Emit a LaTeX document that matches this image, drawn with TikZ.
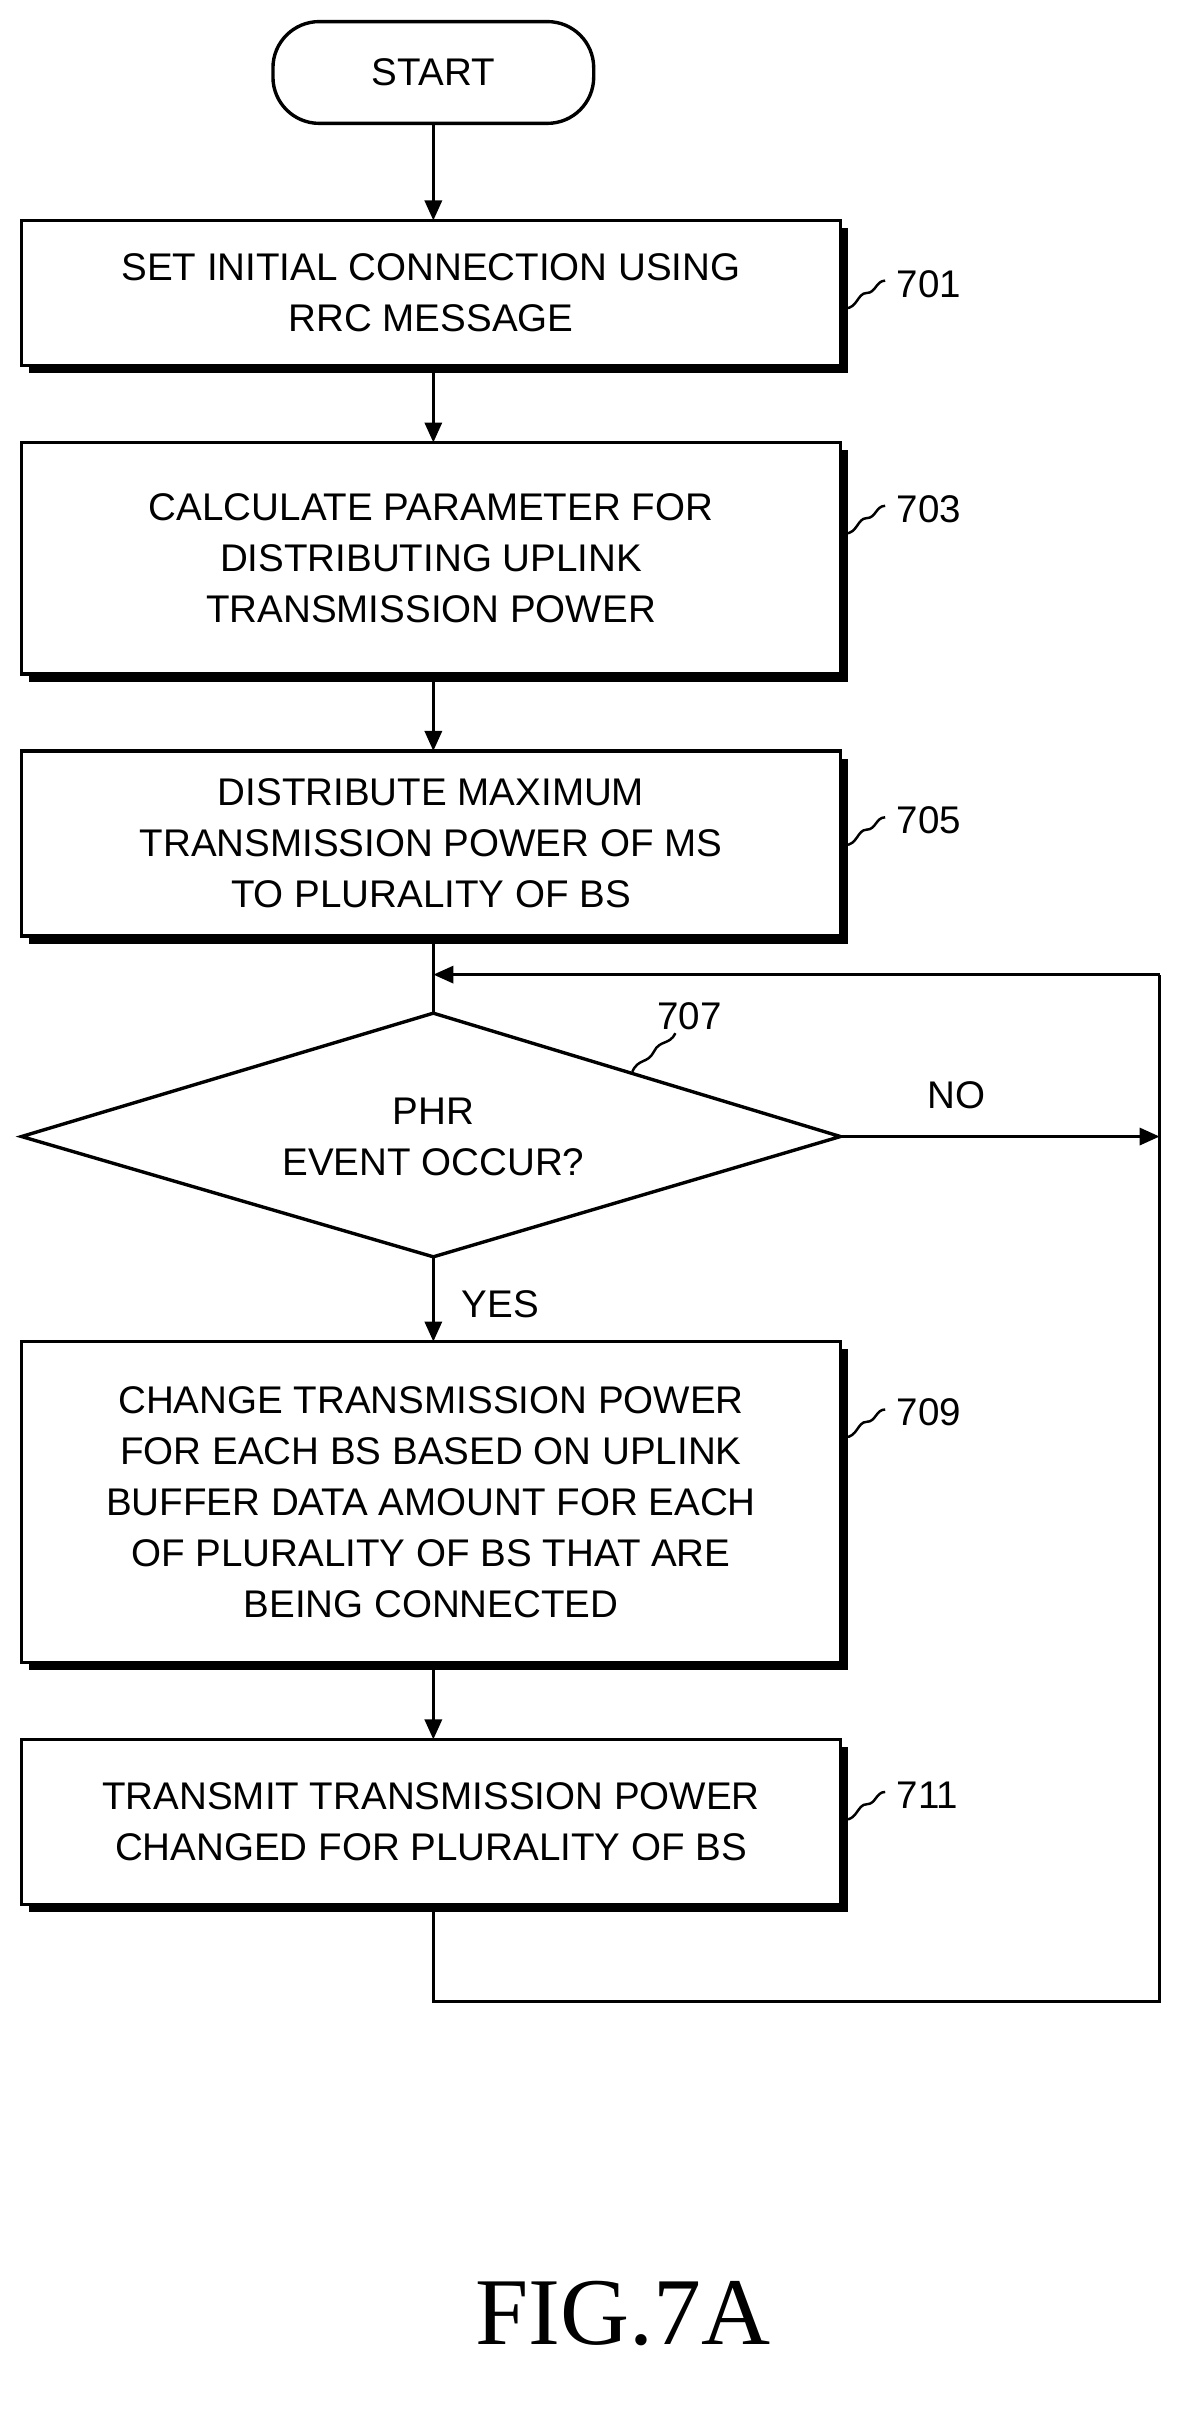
\documentclass[tikz,border=0pt]{standalone}
\usepackage{fontspec}
\setmainfont{Liberation Serif}
\newfontfamily\boxfont{Liberation Sans}
\usetikzlibrary{shapes.geometric,arrows.meta}
\begin{document}
\begin{tikzpicture}[x=1pt,y=-1pt,
  ln/.style={line width=2.2pt},
  arr/.style={ln,-{Triangle[length=13pt,width=11pt]}},
  txt/.style={font=\boxfont\fontsize{25}{33}\selectfont,align=center},
  lab/.style={font=\boxfont\fontsize{25}{30}\selectfont},
  sq/.style={line width=1.6pt}]
\useasboundingbox (0,0) rectangle (768,1568);
\tikzset{pics/bx/.style n args={0}{}}
\newcommand{\mybox}[4]{% name, top, bottom, text
  \fill (19,#2+5) rectangle (550,#3+5);
  \draw[ln,fill=white] (14,#2) rectangle (545,#3);
  \node[txt] (#1) at (279.5,{(#2+#3)/2}) {#4};
  \coordinate (#1t) at (281,#2);
  \coordinate (#1b) at (281,#3+5);}
\node[draw,ln,rounded corners=30pt,minimum width=208pt,minimum height=66pt,txt] (start) at (281,47) {START};
\mybox{b1}{143}{237}{SET INITIAL CONNECTION USING\\RRC MESSAGE}
\mybox{b3}{287}{437}{CALCULATE PARAMETER FOR\\DISTRIBUTING UPLINK\\TRANSMISSION POWER}
\mybox{b5}{487}{607}{DISTRIBUTE MAXIMUM\\TRANSMISSION POWER OF MS\\TO PLURALITY OF BS}
\mybox{b9}{870}{1078}{CHANGE TRANSMISSION POWER\\FOR EACH BS BASED ON UPLINK\\BUFFER DATA AMOUNT FOR EACH\\OF PLURALITY OF BS THAT ARE\\BEING CONNECTED}
\mybox{b11}{1128}{1235}{TRANSMIT TRANSMISSION POWER\\CHANGED FOR PLURALITY OF BS}
\draw[ln] (14,737) coordinate (dl) -- (281,657) coordinate (dt) -- (545,737) coordinate (dr) -- (281,815) coordinate (db) -- cycle;
\node[txt] (dtext) at (281,737) {PHR\\EVENT OCCUR?};
% labels
\foreach \n/\y in {701/190,703/336,705/538,709/922,711/1170}{
  \draw[sq] (548,\y+10) .. controls (556,\y+10) and (556,\y) .. (562,\y) .. controls (568,\y) and (568,\y-8) .. (574,\y-8);
  \node[lab,anchor=west] (l\n) at (578,\y-6) {\n};}
\draw[sq] (410,695) .. controls (414,686) and (420,690) .. (424,682) .. controls (428,674) and (434,678) .. (438,670);
\node[lab] (l707) at (447,659) {707};
% connectors
\draw[arr] (start.south) -- (b1t);
\draw[arr] (b1b) -- (b3t);
\draw[arr] (b3b) -- (b5t);
\draw[ln] (b5b) -- (dt);
\draw[arr] (db) -- (b9t);
\node[lab,anchor=west] (yes) at (296,846) {YES};
\draw[arr] (b9b) -- (b11t);
\coordinate (r1) at (752,737);
\draw[arr] (dr) -- (r1);
\node[lab] (no) at (620,710) {NO};
\coordinate (c1) at (281,1298);
\coordinate (c2) at (752,1298);
\coordinate (c3) at (752,632);
\coordinate (c4) at (281,632);
\draw[ln] (b11b) -- (c1) -- (c2) -- (c3);
\draw[arr] (c3) -- (c4);
\node[font=\fontsize{62}{70}\selectfont] (fig) at (404,1500) {FIG.7A};
\end{tikzpicture}
\end{document}
